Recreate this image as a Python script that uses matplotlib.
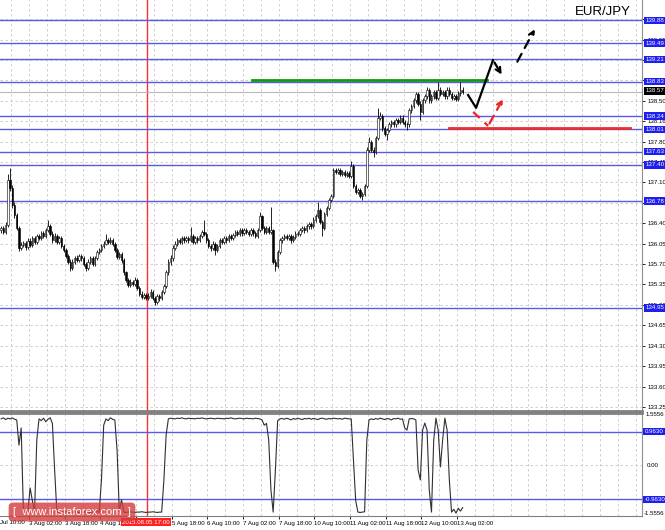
import matplotlib
matplotlib.use('Agg')
import matplotlib.pyplot as plt
from matplotlib import transforms as mtr

plt.rcParams['font.family'] = ['Liberation Sans', 'DejaVu Sans']

# EUR/JPY H1, 31 Jul 14:00 .. 13 Aug, bar index = position
closes = [136.32, 136.25, 136.37, 137.14, 137.00, 136.71, 136.54, 136.32, 135.98, 136.03,
          136.06, 135.99, 136.10, 136.03, 136.15, 136.08, 136.18, 136.15, 136.23, 136.18,
          136.28, 136.35, 136.22, 136.11, 136.18, 136.08, 136.15, 136.01, 135.94, 135.84,
          135.74, 135.63, 135.74, 135.80, 135.77, 135.84, 135.80, 135.70, 135.63, 135.74,
          135.80, 135.70, 135.80, 135.91, 135.94, 136.01, 136.05, 136.11, 136.08, 136.11,
          136.05, 135.94, 135.82, 135.87, 135.77, 135.56, 135.43, 135.34, 135.39, 135.36,
          135.43, 135.29, 135.19, 135.14, 135.17, 135.12, 135.15, 135.22, 135.12, 135.05,
          135.15, 135.12, 135.22, 135.32, 135.56, 135.74, 135.80, 135.98, 136.05, 136.11,
          136.08, 136.15, 136.11, 136.15, 136.11, 136.18, 136.08, 136.15, 136.11, 136.18,
          136.25, 136.22, 136.11, 136.01, 135.98, 136.05, 135.94, 136.01, 136.11, 136.08,
          136.15, 136.11, 136.18, 136.15, 136.20, 136.25, 136.22, 136.28, 136.23, 136.28,
          136.25, 136.22, 136.28, 136.23, 136.18, 136.28, 136.52, 136.32, 136.25, 136.32,
          136.25, 136.28, 135.74, 135.67, 135.91, 136.11, 136.15, 136.18, 136.15, 136.18,
          136.11, 136.16, 136.22, 136.22, 136.28, 136.32, 136.28, 136.35, 136.39, 136.35,
          136.46, 136.52, 136.63, 136.42, 136.32, 136.56, 136.66, 136.80, 136.87, 137.31,
          137.28, 137.31, 137.25, 137.28, 137.23, 137.26, 137.21, 137.38, 137.04, 136.94,
          136.97, 136.87, 136.90, 137.04, 137.66, 137.79, 137.66, 137.62, 137.86, 138.21,
          138.24, 138.03, 137.93, 138.00, 138.10, 138.14, 138.10, 138.17, 138.14, 138.21,
          138.14, 138.10, 138.10, 138.34, 138.41, 138.51, 138.62, 138.45, 138.31, 138.51,
          138.58, 138.69, 138.51, 138.58, 138.65, 138.55, 138.69, 138.62, 138.65, 138.58,
          138.69, 138.62, 138.55, 138.58, 138.53, 138.63, 138.69, 138.65]

highs = [136.36, 136.36, 136.42, 137.24, 137.35, 137.05, 136.76, 136.58, 136.35, 136.08,
         136.10, 136.10, 136.14, 136.14, 136.19, 136.19, 136.22, 136.22, 136.27, 136.27,
         136.32, 136.45, 136.38, 136.26, 136.23, 136.22, 136.19, 136.18, 136.05, 135.98,
         135.88, 135.78, 135.78, 135.84, 135.85, 135.88, 135.88, 135.84, 135.74, 135.78,
         135.84, 135.84, 135.84, 135.95, 135.98, 136.05, 136.09, 136.21, 136.15, 136.16,
         136.14, 136.08, 135.97, 135.91, 135.90, 135.80, 135.59, 135.46, 135.44, 135.43,
         135.47, 135.46, 135.32, 135.23, 135.21, 135.21, 135.20, 135.27, 135.25, 135.15,
         135.19, 135.19, 135.26, 135.36, 135.60, 135.78, 135.85, 136.02, 136.09, 136.15,
         136.14, 136.19, 136.19, 136.19, 136.19, 136.34, 136.21, 136.19, 136.19, 136.22,
         136.29, 136.46, 136.25, 136.14, 136.05, 136.09, 136.08, 136.05, 136.15, 136.15,
         136.19, 136.19, 136.22, 136.22, 136.24, 136.29, 136.29, 136.32, 136.32, 136.32,
         136.32, 136.29, 136.32, 136.32, 136.27, 136.32, 136.60, 136.55, 136.36, 136.36,
         136.36, 136.68, 136.31, 135.78, 135.95, 136.15, 136.19, 136.22, 136.22, 136.22,
         136.22, 136.20, 136.26, 136.26, 136.32, 136.36, 136.36, 136.39, 136.43, 136.43,
         136.50, 136.56, 136.77, 136.66, 136.45, 136.60, 136.70, 136.84, 136.91, 137.35,
         137.35, 137.35, 137.35, 137.32, 137.32, 137.30, 137.30, 137.46, 137.41, 137.08,
         137.01, 137.01, 136.94, 137.08, 137.70, 137.88, 137.82, 137.70, 137.90, 138.38,
         138.31, 138.28, 138.07, 138.04, 138.14, 138.18, 138.18, 138.21, 138.21, 138.25,
         138.25, 138.18, 138.14, 138.38, 138.45, 138.55, 138.66, 138.65, 138.49, 138.55,
         138.62, 138.73, 138.72, 138.62, 138.69, 138.69, 138.82, 138.73, 138.69, 138.69,
         138.73, 138.73, 138.66, 138.62, 138.62, 138.67, 138.82, 138.73]

lows = [136.24, 136.21, 136.22, 136.34, 136.95, 136.66, 136.49, 136.28, 135.93, 135.94,
        135.99, 135.95, 135.96, 135.99, 136.00, 136.04, 136.05, 136.11, 136.12, 136.14,
        136.15, 136.25, 136.18, 136.07, 136.08, 136.04, 136.05, 135.97, 135.90, 135.80,
        135.70, 135.59, 135.60, 135.71, 135.73, 135.74, 135.76, 135.66, 135.59, 135.60,
        135.71, 135.66, 135.67, 135.77, 135.88, 135.91, 135.98, 136.02, 136.04, 136.05,
        136.01, 135.90, 135.78, 135.78, 135.72, 135.52, 135.39, 135.30, 135.31, 135.32,
        135.33, 135.25, 135.15, 135.10, 135.10, 135.08, 135.08, 135.12, 135.08, 134.99,
        135.02, 135.06, 135.09, 135.19, 135.29, 135.52, 135.69, 135.76, 135.94, 136.01,
        136.04, 136.05, 136.07, 136.08, 136.07, 136.08, 136.04, 136.05, 136.07, 136.08,
        136.15, 136.18, 136.07, 135.97, 135.93, 135.94, 135.86, 135.90, 135.98, 136.04,
        136.05, 136.07, 136.08, 136.11, 136.12, 136.17, 136.18, 136.19, 136.19, 136.20,
        136.21, 136.18, 136.19, 136.19, 136.14, 136.15, 136.25, 136.28, 136.21, 136.22,
        136.21, 136.22, 135.70, 135.58, 135.64, 135.88, 136.07, 136.11, 136.11, 136.11,
        136.07, 136.08, 136.13, 136.18, 136.19, 136.25, 136.24, 136.25, 136.31, 136.31,
        136.32, 136.43, 136.49, 136.38, 136.18, 136.29, 136.52, 136.62, 136.76, 136.84,
        137.24, 137.24, 137.21, 137.21, 137.19, 137.19, 137.17, 137.18, 137.00, 136.90,
        136.90, 136.83, 136.80, 136.86, 137.01, 137.62, 137.62, 137.53, 137.58, 137.82,
        138.17, 137.99, 137.89, 137.83, 137.96, 138.06, 138.06, 138.06, 138.10, 138.10,
        138.10, 138.06, 138.00, 138.06, 138.30, 138.37, 138.47, 138.41, 138.17, 138.27,
        138.47, 138.54, 138.47, 138.47, 138.54, 138.51, 138.51, 138.58, 138.58, 138.54,
        138.54, 138.58, 138.51, 138.51, 138.49, 138.49, 138.59, 138.61]

first_open = 136.28
opens = [first_open] + closes[:-1]

# oscillator in the lower window
osc = [1.33, 1.36, 1.31, 1.35, 1.33, 1.36, 1.32, 1.30, 0.58, 1.07,
       -1.33, -1.33, -1.32, -0.64, -1.00, -1.33, 0.73, 1.33, 1.28, 1.35,
       1.25, 1.32, 1.36, 1.20, -0.13, -1.33, -1.34, -1.33, -1.32, -1.33,
       -1.34, -1.33, -1.33, -1.32, -1.33, -1.34, -1.33, -1.33, -1.32, -1.33,
       -1.34, -1.33, -1.33, -1.32, -1.33, -0.41, 1.15, 1.33, 1.28, 1.36,
       1.32, 1.30, 0.44, -1.30, -0.98, -1.33, -1.34, -1.33, -1.32, -1.33,
       -1.34, -1.33, -1.33, -1.32, -1.33, -1.34, -1.33, -1.33, -1.32, -1.33,
       -1.34, -1.33, -1.33, -0.41, 0.87, 1.33, 1.35, 1.34, 1.33, 1.35,
       1.34, 1.36, 1.34, 1.33, 1.35, 1.34, 1.34, 1.33, 1.35, 1.34,
       1.36, 1.34, 1.33, 1.34, 1.35, 1.34, 1.33, 1.35, 1.34, 1.34,
       1.33, 1.35, 1.34, 1.36, 1.34, 1.33, 1.34, 1.35, 1.34, 1.33,
       1.35, 1.34, 1.34, 1.33, 1.35, 1.34, 1.33, 1.30, 1.15, 1.20,
       0.73, -0.70, -1.33, -0.13, 1.28, 1.33, 1.34, 1.32, 1.35, 1.33,
       1.30, 1.34, 1.32, 1.35, 1.33, 1.31, 1.34, 1.33, 1.35, 1.32,
       1.34, 1.33, 1.31, 1.34, 1.35, 1.33, 1.32, 1.34, 1.33, 1.35,
       1.34, 1.33, 1.34, 1.32, 1.35, 1.34, 1.33, 1.33, 0.16, -1.00,
       -1.33, -1.34, -1.33, -1.32, 0.73, 1.30, 1.33, 1.31, 1.34, 1.32,
       1.35, 1.33, 1.31, 1.34, 1.33, 1.30, 1.34, 1.33, 1.35, 1.32,
       1.33, 1.07, 1.01, 1.33, 1.34, 1.33, 1.30, -0.13, -0.41, 1.01,
       1.21, 1.01, -0.70, -1.33, 0.73, 1.35, 1.01, -0.04, 0.73, 1.35,
       1.01, -0.41, -1.33, -1.25, -1.36, -1.22, -1.30, -1.20]

levels = [139.88, 139.49, 139.21, 138.83, 138.24, 138.01, 137.63, 137.40, 136.78, 134.95]
price_ticks = [133.25, 133.60, 133.95, 134.30, 134.65, 135.00, 135.35, 135.70, 136.05,
               136.40, 136.75, 137.10, 137.45, 137.80, 138.15, 138.50, 138.85, 139.20,
               139.55, 139.90]
# labels hidden behind the level boxes are left blank
price_tick_labels = ['133.25', '133.60', '133.95', '134.30', '134.65', '135.00', '135.35',
                     '135.70', '136.05', '136.40', '', '137.10', '137.45', '137.80',
                     '138.16', '138.50', '', '', '139.55', '']
osc_levels = [0.963, -0.963]
osc_level_labels = ['0.9630', '-0.9630']

date_pos = [12.5, 28.5, 44.5, 60.5, 76.5, 92.5, 108.5, 124.5, 140.5, 156.5, 172.5, 188.5, 204.5]
date_labels = ['3 Aug 02:00', '3 Aug 18:00', '4 Aug 10:00', '', '5 Aug 18:00',
               '6 Aug 10:00', '7 Aug 02:00', '7 Aug 18:00', '10 Aug 10:00', '11 Aug 02:00',
               '11 Aug 18:00', '12 Aug 10:00', '13 Aug 02:00']
cursor_x = 65.5
cursor_label = '2015.08.05 17:00'
last_label = '138.57'

green_x = [112.6, 217.9]
green_y = 138.86
red_x = [200.9, 282.0]
red_y = 138.03
black_x = [209.4, 213.0, 220.6, 225.1]
black_y = [138.60, 138.38, 139.20, 138.91]
black_dash_x = [230.9, 239.9]
black_dash_y = [139.13, 139.77]
red_path_x = [211.7, 218.4, 225.6]
red_path_y = [138.31, 138.07, 138.57]

FS = 4.4  # small terminal font
W, H = 665, 530
fig = plt.figure(figsize=(W / 100, H / 100), dpi=100)
ax = fig.add_axes([0, (H - 411) / H, 642 / W, 411 / H])
ax2 = fig.add_axes([0, (H - 516) / H, 642 / W, 103 / H])

grid_kw = dict(color='#c8c8c8', linestyle=(0, (3, 3)), linewidth=0.6, zorder=0)
xs = list(range(len(closes)))

for a in (ax, ax2):
    a.set_xlim(-0.5, 287.4)
    for g in range(5, 288, 8):
        a.axvline(g - 0.5, **grid_kw)
    a.spines['left'].set_visible(False)
    a.spines['right'].set_color('#909090')
    a.axvline(cursor_x, color='#ff3030', lw=1, zorder=1)

ax.spines['top'].set_visible(False)
ax.spines['bottom'].set_color('#808080')
ax.spines['bottom'].set_linewidth(2)
ax2.spines['top'].set_color('#808080')
ax2.spines['top'].set_linewidth(2)
ax2.spines['bottom'].set_color('#808080')

# price window
ax.set_ylim(133.18, 140.23)
for t in price_ticks:
    ax.axhline(t, **grid_kw)
for lv in levels:
    ax.axhline(lv, color='#5a5ae6', lw=1, zorder=1)
ax.axhline(closes[-1], color='#b8b8b8', lw=0.8, zorder=1)
ax.plot(green_x, [green_y, green_y], color='#119911', lw=2, zorder=2)
ax.plot(red_x, [red_y, red_y], color='#e83030', lw=2, zorder=2)

ax.vlines(xs, lows, highs, color='black', lw=0.6, zorder=3)
bottoms = [min(o, c) for o, c in zip(opens, closes)]
heights = [max(abs(c - o), 0.005) for o, c in zip(opens, closes)]
fills = ['white' if c >= o else 'black' for o, c in zip(opens, closes)]
ax.bar(xs, heights, bottom=bottoms, width=0.65, color=fills, edgecolor='black',
       linewidth=0.4, zorder=4)

# forecast arrows
ax.plot(black_x[:-1], black_y[:-1], color='black', lw=1.6, zorder=5)
ax.annotate('', xy=(black_x[-1], black_y[-1]), xytext=(black_x[-2], black_y[-2]),
            arrowprops=dict(arrowstyle='->', color='black', lw=1.6, mutation_scale=9), zorder=5)
ax.annotate('', xy=(black_dash_x[1], black_dash_y[1]), xytext=(black_dash_x[0], black_dash_y[0]),
            arrowprops=dict(arrowstyle='->', color='black', lw=1.6, linestyle=(0, (4, 3)),
                            mutation_scale=9), zorder=5)
ax.plot(red_path_x[:2], red_path_y[:2], color='#ee2222', lw=1.6, linestyle=(0, (4, 3)), zorder=5)
ax.annotate('', xy=(red_path_x[2], red_path_y[2]), xytext=(red_path_x[1], red_path_y[1]),
            arrowprops=dict(arrowstyle='->', color='#ee2222', lw=1.6, linestyle=(0, (4, 3)),
                            mutation_scale=9), zorder=5)

ax.set_xticks([])
ax.yaxis.tick_right()
ax.set_yticks(price_ticks)
ax.set_yticklabels(price_tick_labels)
ax.tick_params(axis='y', length=2.5, width=0.6, pad=1.2, labelsize=FS, colors='black')

box_kw = dict(boxstyle='square,pad=0.2', fc='#1e1ef0', ec='none')
tr = mtr.blended_transform_factory(ax.transAxes, ax.transData)
for lv in levels:
    ax.text(1.005, lv, '%.2f' % lv, transform=tr, ha='left', va='center', fontsize=FS,
            color='white', clip_on=False, zorder=6, bbox=box_kw)
ax.text(1.005, closes[-1] + 0.02, last_label, transform=tr, ha='left', va='center', fontsize=FS,
        color='white', clip_on=False, zorder=6,
        bbox=dict(boxstyle='square,pad=0.2', fc='black', ec='none'))

# oscillator window
ax2.set_ylim(-1.441, 1.498)
ax2.axhline(0, **grid_kw)
for lv in osc_levels:
    ax2.axhline(lv, color='#5a5ae6', lw=1, zorder=1)
ax2.plot(xs, osc, color='#303030', lw=0.8, zorder=3)
ax2.yaxis.tick_right()
ax2.set_yticks([0])
ax2.set_yticklabels(['0.00'])
ax2.tick_params(axis='y', length=0, pad=3.5, labelsize=FS)
tr2 = mtr.blended_transform_factory(ax2.transAxes, ax2.transData)
for lv, lb in zip(osc_levels, osc_level_labels):
    ax2.text(1.004, lv, lb, transform=tr2, ha='left', va='center', fontsize=FS,
             color='white', clip_on=False, zorder=6, bbox=box_kw)
ax2.text(1.006, 1.45, '1.5556', transform=tr2, ha='left', va='center', fontsize=FS, clip_on=False)
ax2.text(1.002, -1.36, '-1.5556', transform=tr2, ha='left', va='center', fontsize=FS, clip_on=False)

ax2.set_xticks(date_pos)
ax2.set_xticklabels(date_labels, ha='left')
ax2.tick_params(axis='x', length=2, width=0.6, pad=1.5, labelsize=FS)

fig.text(0.0, 1 - 522 / H, 'Jul 10:00', ha='left', va='center', fontsize=FS)
fig.text(146 / W, 1 - 522 / H, cursor_label, ha='center', va='center', fontsize=FS, color='white',
         bbox=dict(boxstyle='square,pad=0.25', fc='#ff2020', ec='none'))
fig.text(72 / W, 1 - 512 / H, '[  www.instaforex.com  ]', ha='center', va='center', fontsize=8,
         color='white', bbox=dict(boxstyle='round,pad=0.4', fc='#d23c3c', ec='none', alpha=0.8))
fig.text(603 / W, 1 - 12 / H, 'EUR/JPY', ha='center', va='center', fontsize=9.5)

fig.savefig('out.png', dpi=100)
